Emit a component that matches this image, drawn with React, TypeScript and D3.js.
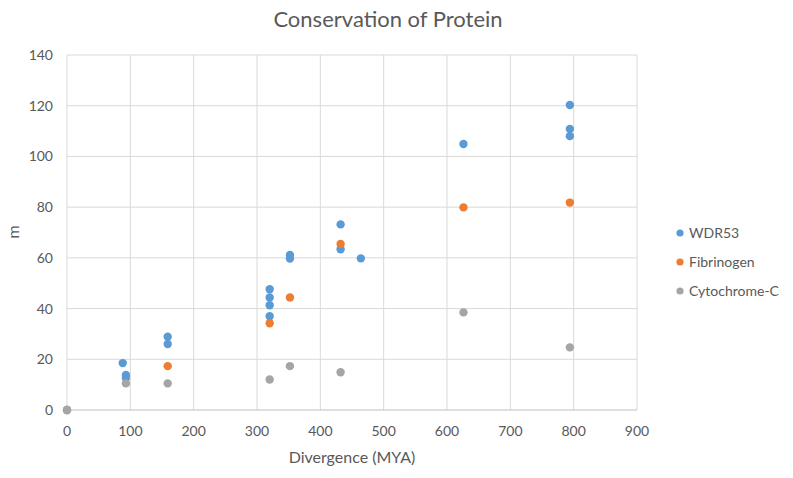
import React from "react";
import * as d3 from "d3";

const seriesNames = ["WDR53", "Fibrinogen", "Cytochrome-C"];
const seriesColors = ["#5B9BD5", "#ED7D31", "#A5A5A5"];

const wdr53X = [0, 88, 93, 93, 159, 159, 320, 320, 320, 320, 352, 352, 432, 432, 464, 626, 794, 794, 794];
const wdr53Y = [0, 18.5, 13.8, 12.6, 28.9, 26, 47.6, 44.4, 41.3, 37, 61.1, 59.7, 73.2, 63.4, 59.8, 104.9, 120.3, 110.8, 108];

const fibX = [0, 159, 320, 352, 432, 626, 794];
const fibY = [0, 17.3, 34.2, 44.4, 65.5, 79.9, 81.8];

const cytX = [0, 93, 159, 320, 352, 432, 626, 794];
const cytY = [0, 10.5, 10.5, 12, 17.3, 14.9, 38.5, 24.7];

const xTicks = [0, 100, 200, 300, 400, 500, 600, 700, 800, 900];
const yTicks = [0, 20, 40, 60, 80, 100, 120, 140];

const W = 793;
const H = 478;
const FONT = "Lato, 'Open Sans', 'Liberation Sans', sans-serif";
const TEXT = "#595959";

export default function App() {
  const x = d3.scaleLinear().domain([0, 900]).range([67, 637]);
  const y = d3.scaleLinear().domain([0, 140]).range([410, 55]);

  const series = [
    { xs: wdr53X, ys: wdr53Y },
    { xs: fibX, ys: fibY },
    { xs: cytX, ys: cytY },
  ];

  return (
    <svg width={W} height={H} style={{ position: "absolute", left: 0, top: 0, background: "#fff" }} fontFamily={FONT}>
      <rect x={0} y={0} width={W} height={H} fill="#fff" />
      <text x={388} y={27} textAnchor="middle" fontSize={22} fill={TEXT}>
        Conservation of Protein
      </text>
      {xTicks.map((t) => (
        <line key={"gx" + t} x1={x(t)} x2={x(t)} y1={y(0)} y2={y(140)} stroke="#D9D9D9" strokeWidth={1} />
      ))}
      {yTicks.map((t) => (
        <line key={"gy" + t} x1={x(0)} x2={x(900)} y1={y(t)} y2={y(t)} stroke={t === 0 ? "#BFBFBF" : "#D9D9D9"} strokeWidth={1} />
      ))}
      {xTicks.map((t) => (
        <text key={"tx" + t} x={x(t)} y={436} textAnchor="middle" fontSize={14} fill={TEXT}>
          {t}
        </text>
      ))}
      {yTicks.map((t) => (
        <text key={"ty" + t} x={53} y={y(t) + 5} textAnchor="end" fontSize={14} fill={TEXT}>
          {t}
        </text>
      ))}
      <text x={352} y={463} textAnchor="middle" fontSize={16} fill={TEXT}>
        Divergence (MYA)
      </text>
      <text transform={`translate(19,232) rotate(-90)`} textAnchor="middle" fontSize={16} fill={TEXT}>
        m
      </text>
      {series.map((s, si) =>
        s.xs.map((xv, i) => (
          <circle key={si + "-" + i} cx={x(xv)} cy={y(s.ys[i])} r={4.2} fill={seriesColors[si]} />
        ))
      )}
      {seriesNames.map((n, i) => (
        <g key={n} transform={`translate(680,${233 + i * 29})`}>
          <circle cx={0} cy={0} r={3.6} fill={seriesColors[i]} />
          <text x={9} y={5} fontSize={14} fill={TEXT}>
            {n}
          </text>
        </g>
      ))}
    </svg>
  );
}
